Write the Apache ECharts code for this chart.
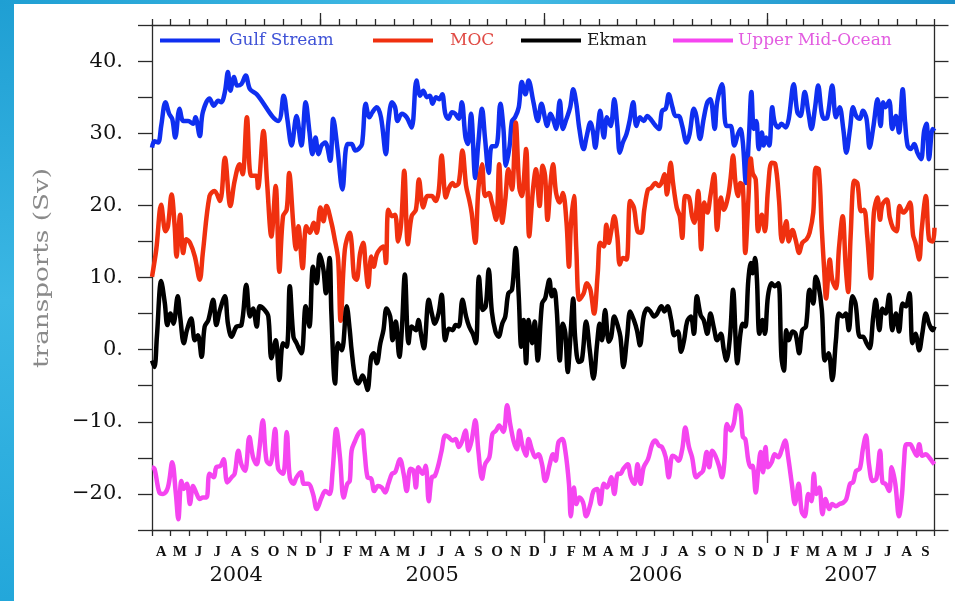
<!DOCTYPE html>
<html><head><meta charset="utf-8">
<script src="https://cdn.jsdelivr.net/npm/echarts@6/dist/echarts.min.js"></script>
<style>html,body{margin:0;padding:0;background:#fff;}#c{width:955px;height:601px;}</style>
</head><body><div id="c"></div>
<script>
// ---- data (x = days since 2004-04-01, y = transport in Sv) ----
const monthLetters = ['J','F','M','A','M','J','J','A','S','O','N','D'];
const yearLabels = ['2004','2005','2006','2007'];
const yTickLabels = [-20,-10,0,10,20,30,40];
const seriesNames = ['Gulf Stream','MOC','Ekman','Upper Mid-Ocean'];

const gsDays = [0,4,10,15,22,28,33,38,45,51,59,67,71,78,83,94,101,108,113,119,124,128,134,139,146,153,160,171,206,215,221,228,236,244,251,257,262,267,272,277,283,291,296,303,311,319,
326,332,337,343,349,355,360,367,374,382,386,392,397,401,408,416,424,432,438,443,449,454,458,464,469,474,479,484,490,495,501,506,512,516,521,528,533,539,544,550,555,562,569,574,578,584,588,593,599,604,610,615,623,630,636,642,
645,651,656,660,666,671,677,683,688,693,698,705,710,716,720,724,728,732,738,743,749,755,760,764,769,775,780,786,791,797,803,809,814,820,828,833,839,844,850,855,860,866,873,878,885,889,895,901,907,912,919,923,931,938,945,951,957,961,
965,970,975,979,983,987,991,996,999,1003,1008,1013,1017,1023,1028,1035,1040,1048,1054,1059,1066,1072,1077,1083,1088,1094,1098,1103,1111,1117,1123,1129,1134,1140,1145,1150,1156,1161,1167,1172,1178,1185,1190,1194,1198,1204,1209,1215,1220,1226,1230,1234,1239,1245,1250,1256,1261,1265,1269,1275,1278];
const gsVals = [28.0,28.9,28.7,31.0,34.3,32.7,32.0,29.4,33.4,31.7,31.7,31.3,32.2,29.6,32.9,34.8,33.8,34.5,34.3,35.7,38.5,35.9,37.8,36.6,36.8,38.0,36.1,35.4,31.7,35.2,32.0,28.3,32.4,28.3,34.3,30.3,27.1,29.4,27.1,28.3,28.7,26.2,32.0,27.8,22.2,28.5,
28.5,27.6,27.8,28.5,34.1,32.2,32.9,33.6,32.2,27.1,31.5,34.3,33.6,31.7,32.7,32.2,30.8,37.3,35.2,35.9,35.0,35.2,34.1,35.0,34.7,35.4,32.7,32.0,32.9,32.7,32.0,34.3,29.4,28.5,32.7,23.8,28.7,33.4,29.2,24.5,28.2,28.2,34.1,30.6,25.5,28.2,31.7,32.2,33.6,37.1,35.4,37.3,34.3,31.7,34.1,32.0,
31.0,32.7,31.7,30.6,34.5,30.6,32.0,33.6,36.1,34.1,30.6,27.8,29.6,31.5,30.3,28.0,30.6,33.1,29.4,32.2,31.0,34.7,31.0,27.3,28.7,29.9,31.7,34.3,31.0,32.2,31.7,32.4,32.0,31.3,30.6,33.1,33.4,35.4,33.6,32.4,32.4,31.0,28.7,29.9,33.4,32.4,29.2,32.0,34.3,34.7,30.6,34.3,36.8,31.0,31.0,28.3,29.9,30.6,
28.7,23.1,29.6,35.7,30.6,31.7,27.8,30.1,28.3,29.4,28.3,33.6,31.5,30.8,31.3,30.8,32.0,36.8,32.9,32.4,35.7,32.9,30.6,33.6,36.6,32.7,32.0,32.2,36.6,32.2,33.6,30.6,27.3,30.6,33.6,32.4,32.0,33.1,32.0,28.0,30.8,34.7,31.0,34.3,33.6,34.5,30.6,32.4,30.1,36.1,31.5,28.3,27.8,28.5,27.3,26.4,30.3,31.3,26.4,30.6,30.3];

const mocDays = [0,7,15,22,26,32,37,40,46,51,56,62,70,78,83,94,102,111,119,128,135,143,148,155,162,170,173,182,188,195,202,208,214,220,224,231,235,239,246,252,258,264,269,275,280,285,293,298,304,308,315,323,
326,330,334,340,345,349,353,358,362,367,372,378,382,386,392,397,402,407,412,418,424,431,436,443,450,457,463,468,473,480,485,491,495,501,507,513,518,522,528,533,539,544,550,555,562,567,572,577,582,588,594,600,604,611,616,622,627,633,638,642,
646,651,655,660,666,671,677,681,684,689,693,698,705,710,716,722,728,732,738,742,746,750,755,760,764,769,775,781,787,793,799,804,810,815,822,828,832,837,841,847,851,857,862,866,871,877,882,886,892,897,902,907,912,918,923,929,934,941,945,949,953,957,961,
965,969,974,978,981,986,990,996,1001,1006,1012,1018,1024,1029,1036,1040,1046,1051,1057,1062,1069,1074,1080,1084,1089,1094,1098,1101,1107,1111,1117,1122,1128,1133,1137,1141,1147,1152,1158,1163,1168,1174,1179,1185,1189,1193,1200,1205,1210,1216,1221,1227,1232,1238,1243,1247,1253,1257,1264,1269,1275,1278];
const mocVals = [10.1,13.9,20.1,16.4,17.1,21.5,17.1,12.9,18.7,13.4,15.3,14.8,12.9,9.7,13.4,21.3,22.0,20.6,26.6,19.9,23.4,25.7,24.3,32.2,24.1,24.1,22.4,30.3,23.1,15.7,22.7,10.8,18.5,19.4,24.5,17.1,13.9,17.1,11.3,17.1,16.2,17.6,16.2,19.7,17.8,19.9,17.6,15.5,12.5,4.0,13.9,16.2,
14.8,10.1,9.7,13.4,14.8,11.5,8.7,12.9,11.5,13.2,13.9,14.3,12.0,19.4,18.5,18.7,15.0,17.6,24.8,14.6,18.5,19.4,23.6,19.7,21.3,21.3,20.6,21.8,26.9,21.1,22.4,23.1,22.7,23.1,27.6,22.7,20.8,19.0,14.8,22.2,25.7,21.3,21.7,20.4,18.0,25.7,17.6,20.8,25.0,22.2,31.5,22.4,21.3,27.8,15.7,22.0,25.0,19.9,25.5,24.1,
18.0,23.1,25.7,21.7,20.4,21.7,17.6,11.5,17.1,21.3,13.9,6.9,7.8,9.2,8.3,5.0,10.6,14.8,14.3,17.3,14.8,16.4,18.5,15.7,11.8,12.7,12.5,20.6,19.7,16.4,16.2,19.4,22.2,22.4,23.1,22.7,23.1,24.3,21.5,25.9,23.1,19.7,18.5,15.5,21.3,21.1,18.5,17.6,22.0,13.9,20.4,19.0,21.3,24.3,16.6,21.1,19.4,21.3,23.8,26.9,23.1,21.3,23.1,
22.7,13.4,20.8,26.5,24.5,23.6,16.4,18.7,16.4,22.2,25.9,25.7,20.8,15.0,17.8,15.0,16.6,15.3,13.4,14.8,15.3,16.2,19.0,25.2,25.0,16.6,10.8,7.1,12.5,9.7,8.5,14.1,18.5,11.5,8.0,15.7,23.4,23.1,19.2,19.4,15.9,9.9,19.0,21.1,18.0,20.1,20.8,18.3,16.9,16.4,19.9,19.0,19.4,20.4,15.9,14.8,12.5,16.6,21.3,15.3,15.0,16.9];

const ekDays = [0,4,8,15,21,25,30,35,42,46,52,57,64,70,75,81,86,92,100,105,111,119,124,130,138,146,154,160,165,171,176,184,190,195,202,208,214,220,225,231,236,244,251,257,263,269,274,280,284,290,293,299,304,310,318,323,
326,332,337,344,349,352,358,362,367,373,378,383,389,393,398,404,408,413,419,424,431,435,440,444,452,457,462,468,473,479,485,491,496,501,507,513,518,524,529,534,540,545,550,555,561,566,572,577,582,588,594,599,603,607,611,615,621,625,630,637,642,
645,649,653,657,661,666,671,675,679,683,688,691,697,702,709,715,721,727,731,735,740,746,750,755,761,765,770,776,781,787,792,797,803,809,814,820,825,832,837,842,848,853,859,864,869,874,880,885,890,896,901,907,912,918,923,929,934,938,944,949,956,961,
965,969,974,978,981,985,988,992,997,1001,1006,1012,1017,1023,1028,1032,1036,1040,1046,1051,1057,1062,1068,1074,1080,1084,1088,1094,1099,1105,1111,1117,1122,1128,1133,1138,1144,1149,1156,1161,1167,1172,1178,1182,1188,1193,1198,1204,1209,1215,1220,1226,1231,1237,1242,1247,1253,1258,1264,1269,1275,1278];
const ekVals = [-1.5,-2.4,1.8,9.5,6.4,3.4,5.0,3.6,7.4,4.6,0.9,2.7,4.3,1.3,2.0,-1.0,3.2,4.1,6.9,3.4,5.5,7.4,3.6,1.8,3.2,3.4,9.0,4.6,5.7,3.2,6.0,5.5,4.6,-1.2,1.3,-4.2,0.9,0.4,8.8,1.8,0.9,-0.5,6.0,3.2,11.5,9.2,13.2,11.1,7.8,12.7,5.0,-4.7,0.9,-0.1,6.0,2.7,
-0.1,-4.0,-4.7,-3.6,-4.7,-5.6,-1.0,-0.5,-1.9,0.9,2.7,5.7,4.6,1.3,3.9,-1.0,2.7,10.4,0.9,3.2,2.7,4.1,1.8,0.2,6.9,5.0,3.6,5.0,7.6,1.3,2.9,2.7,3.4,3.2,6.9,4.6,3.2,2.2,0.9,10.1,5.5,6.0,11.1,5.3,2.5,1.8,3.6,4.6,7.8,8.3,14.1,7.4,0.4,4.1,-1.9,4.1,0.9,3.9,-1.5,6.4,7.1,
8.3,9.7,7.4,8.3,5.5,-1.5,3.6,2.3,-3.1,1.3,7.1,1.8,-1.7,-1.5,3.9,-0.1,-4.0,0.9,3.6,1.3,5.5,1.1,1.8,4.6,3.2,1.8,-2.4,1.8,5.3,4.1,2.7,0.6,4.6,5.7,5.3,4.6,5.0,6.0,5.3,6.0,4.1,2.0,2.5,-0.3,1.3,3.9,4.6,2.2,7.4,4.8,4.1,2.2,5.0,2.9,1.3,2.2,-0.1,-1.5,1.8,8.3,-1.9,2.2,
3.6,3.2,9.7,12.0,10.6,12.7,9.7,2.2,4.1,2.2,7.4,9.2,8.8,9.2,-1.0,-2.9,2.7,1.3,2.5,2.2,-0.5,2.7,3.2,8.3,6.4,10.1,9.2,5.5,-1.5,-0.5,-4.2,1.3,5.0,4.6,5.0,2.7,7.4,6.4,1.8,1.8,0.9,0.2,4.6,6.9,2.7,5.7,5.0,7.6,2.7,5.0,2.5,6.4,6.0,7.8,0.9,2.2,-0.1,2.2,5.0,3.6,2.7,3.2];

const umoDays = [0,4,12,18,26,33,39,43,48,52,57,62,67,73,78,83,89,94,101,105,112,117,123,130,135,141,146,152,159,165,171,175,181,187,193,201,206,214,220,225,231,236,243,248,255,263,269,277,283,290,295,301,307,313,319,323,
326,332,337,343,347,352,358,363,369,375,381,386,392,397,405,411,416,422,427,431,435,442,447,452,457,462,468,473,479,484,491,496,501,506,512,517,522,528,533,539,544,551,556,562,567,574,580,585,591,596,600,605,611,615,621,626,631,637,642,
645,649,655,659,664,670,675,681,684,689,693,698,704,709,716,721,727,732,738,743,750,755,761,765,770,777,782,788,793,798,803,810,817,822,828,833,839,844,850,855,860,866,871,877,882,889,895,900,906,910,915,920,926,931,935,939,945,950,956,961,
965,969,974,978,981,986,990,994,998,1002,1006,1012,1017,1023,1028,1034,1039,1045,1050,1056,1061,1066,1072,1077,1081,1085,1090,1095,1100,1106,1111,1117,1123,1129,1134,1140,1145,1150,1156,1161,1166,1171,1177,1183,1189,1193,1198,1204,1208,1214,1220,1225,1228,1232,1238,1243,1249,1253,1258,1264,1269,1275,1278];
const umoVals = [-16.3,-16.5,-19.8,-20.0,-19.1,-15.6,-20.0,-23.5,-18.2,-19.3,-18.6,-21.4,-18.9,-20.0,-20.7,-20.5,-20.5,-17.2,-17.7,-16.3,-16.1,-15.2,-18.4,-17.7,-17.2,-14.0,-15.9,-16.8,-12.1,-14.9,-15.9,-14.0,-9.8,-15.4,-15.9,-11.0,-16.5,-17.2,-11.4,-17.7,-18.6,-17.7,-17.0,-18.6,-18.6,-20.0,-22.1,-20.5,-19.6,-20.0,-16.8,-11.0,-14.9,-20.5,-18.6,-18.2,
-14.0,-12.6,-11.7,-11.2,-14.0,-17.7,-17.9,-19.6,-18.9,-19.1,-19.8,-18.6,-17.2,-17.0,-15.2,-17.2,-19.6,-16.5,-16.8,-19.1,-16.3,-17.2,-16.1,-21.0,-17.7,-17.5,-15.9,-14.0,-11.9,-12.1,-12.6,-12.4,-13.5,-12.8,-11.2,-14.0,-12.6,-9.8,-14.0,-17.9,-15.9,-14.9,-11.7,-11.2,-10.5,-11.4,-7.7,-10.3,-12.8,-13.8,-11.2,-13.3,-14.7,-12.4,-14.0,-14.9,-14.5,-15.9,-18.2,
-17.7,-16.1,-14.5,-15.4,-12.8,-12.4,-14.0,-18.6,-23.1,-19.1,-21.4,-20.5,-21.2,-23.1,-21.4,-19.6,-19.3,-21.4,-18.6,-19.1,-17.7,-20.0,-17.2,-17.2,-16.5,-15.9,-17.7,-18.6,-15.9,-18.6,-16.3,-15.2,-13.1,-12.6,-13.3,-13.5,-14.9,-17.7,-14.7,-14.9,-15.4,-13.8,-10.8,-13.5,-14.9,-17.7,-17.2,-16.8,-14.2,-16.3,-14.0,-14.7,-16.1,-17.7,-15.4,-10.3,-11.2,-10.3,-7.7,-8.4,
-12.1,-12.4,-15.4,-16.3,-16.1,-19.8,-16.8,-14.2,-17.0,-13.5,-16.3,-15.6,-14.5,-14.9,-14.0,-12.6,-14.9,-18.6,-21.4,-18.6,-22.4,-23.1,-20.0,-21.0,-17.2,-20.0,-19.1,-22.8,-20.7,-22.1,-21.4,-21.7,-21.4,-21.2,-20.7,-18.6,-18.4,-16.8,-16.5,-13.8,-11.9,-15.9,-18.2,-17.9,-14.0,-18.4,-18.6,-19.6,-16.3,-18.6,-23.1,-20.0,-15.9,-13.1,-13.1,-13.8,-14.7,-13.1,-14.7,-14.5,-14.9,-15.6,-15.9];

// ---- calendar helpers ----
const DAY = 86400000;
const t0 = Date.UTC(2004, 3, 1);
const tEnd = Date.UTC(2007, 9, 1);
const xMax = (tEnd - t0) / DAY;
const monthStarts = [], monthMids = [], midLabel = {};
for (let y = 2004, m = 3; ; ) {
  const s = (Date.UTC(y, m, 1) - t0) / DAY;
  if (s >= xMax) break;
  const e = (Date.UTC(y, m + 1, 1) - t0) / DAY;
  const mid = (s + e) / 2;
  monthStarts.push(s); monthMids.push(mid); midLabel[Math.round(mid * 2)] = monthLetters[m];
  m++; if (m === 12) { m = 0; y++; }
}
monthStarts.push(xMax);
const yearStarts = [2005, 2006, 2007].map(y => (Date.UTC(y, 0, 1) - t0) / DAY);
const yearBounds = [0].concat(yearStarts, [xMax]);
const yearMids = [], yearLabelMap = {};
yearLabels.forEach((lab, i) => { const c = (yearBounds[i] + yearBounds[i + 1]) / 2; yearMids.push(c); yearLabelMap[Math.round(c * 2)] = lab; });

const colors = ['#0f2ff0', '#f0300f', '#000000', '#f545f0'];
const textColors = ['#3f52d6', '#e04a44', '#1a1a1a', '#e25ce0'];
const pairs = (d, v) => d.map((x, i) => [x, v[i]]);
const dataSets = [pairs(gsDays, gsVals), pairs(mocDays, mocVals), pairs(ekDays, ekVals), pairs(umoDays, umoVals)];

const axisCol = '#2a2a2a';
const lineOn = { show: true, onZero: false, lineStyle: { color: axisCol, width: 1.3 } };
const lineOff = { show: false, onZero: false };
const baseX = { type: 'value', min: 0, max: xMax, splitLine: { show: false }, offset: 0 };

const legendLefts = [160, 373, 521, 673];
const legendPads = [4, 12, 1, 0];

const chart = echarts.init(document.getElementById('c'), null, { renderer: 'canvas' });
chart.setOption({
  animation: false,
  backgroundColor: '#ffffff',
  grid: { left: 152, right: 20.5, top: 25, bottom: 71, containLabel: false },
  legend: seriesNames.map((n, i) => ({
    data: [n], left: legendLefts[i], top: 32, padding: 0, icon: 'rect',
    itemWidth: 60, itemHeight: 4, selectedMode: false,
    textStyle: { color: textColors[i], fontFamily: 'DejaVu Serif', fontSize: 17, padding: [0, 0, 0, legendPads[i]] }
  })),
  xAxis: [
    Object.assign({}, baseX, {
      position: 'bottom', axisLine: lineOn,
      axisTick: { show: true, customValues: monthStarts, length: 6, lineStyle: { color: axisCol, width: 1.3 } },
      axisLabel: { show: true, customValues: monthMids, margin: 15, color: '#111',
        fontFamily: 'Liberation Serif', fontSize: 15, fontWeight: 'bold',
        formatter: v => midLabel[Math.round(v * 2)] || '' }
    }),
    Object.assign({}, baseX, {
      position: 'bottom', axisLine: lineOff,
      axisTick: { show: true, customValues: yearStarts, length: 13, lineStyle: { color: axisCol, width: 1.3 } },
      axisLabel: { show: true, customValues: yearMids, margin: 35, color: '#111',
        fontFamily: 'DejaVu Serif', fontSize: 21,
        formatter: v => yearLabelMap[Math.round(v * 2)] || '' }
    }),
    Object.assign({}, baseX, {
      position: 'top', axisLine: lineOn,
      axisTick: { show: true, customValues: monthStarts, length: 6, lineStyle: { color: axisCol, width: 1.3 } },
      axisLabel: { show: false }
    }),
    Object.assign({}, baseX, {
      position: 'top', axisLine: lineOff,
      axisTick: { show: true, customValues: yearStarts, length: 12, lineStyle: { color: axisCol, width: 1.3 } },
      axisLabel: { show: false }
    })
  ],
  yAxis: [
    { type: 'value', position: 'left', min: -25, max: 45, interval: 5, splitLine: { show: false },
      axisLine: lineOn,
      axisTick: { show: true, length: 14, lineStyle: { color: axisCol, width: 1.3 } },
      axisLabel: { show: true, customValues: yTickLabels, margin: 29, color: '#111',
        fontFamily: 'DejaVu Serif', fontSize: 21,
        formatter: v => (v < 0 ? '\u2212' + (-v) : String(v)) + '.' } },
    { type: 'value', position: 'right', min: -25, max: 45, interval: 5, splitLine: { show: false },
      axisLine: lineOn,
      axisTick: { show: true, length: 14, lineStyle: { color: axisCol, width: 1.3 } },
      axisLabel: { show: false } }
  ],
  graphic: [
    { type: 'rect', z: -10, shape: { x: 0, y: 0, width: 14, height: 601 },
      style: { fill: new echarts.graphic.LinearGradient(0, 0, 0, 1, [
        { offset: 0, color: '#1f9fd3' }, { offset: 0.5, color: '#3bb7e4' }, { offset: 1, color: '#23a7da' }]) } },
    { type: 'rect', z: -10, shape: { x: 0, y: 0, width: 955, height: 4 },
      style: { fill: new echarts.graphic.LinearGradient(0, 0, 1, 0, [
        { offset: 0, color: '#1f9fd3' }, { offset: 0.5, color: '#45bde6' }, { offset: 1, color: '#1a8fc8' }]) } },
    { type: 'text', x: 43, y: 268, rotation: Math.PI / 2, scaleX: 1.25,
      style: { text: 'transports (Sv)', fill: '#8a8a8a', font: '21px "DejaVu Serif"', align: 'center', verticalAlign: 'middle' } }
  ],
  series: seriesNames.map((n, i) => ({
    name: n, type: 'line', xAxisIndex: 0, yAxisIndex: 0, data: dataSets[i],
    showSymbol: false, symbol: 'none', smooth: 0.35,
    lineStyle: { color: colors[i], width: 4.5, join: 'round' },
    itemStyle: { color: colors[i] }
  }))
});
</script>
</body></html>
